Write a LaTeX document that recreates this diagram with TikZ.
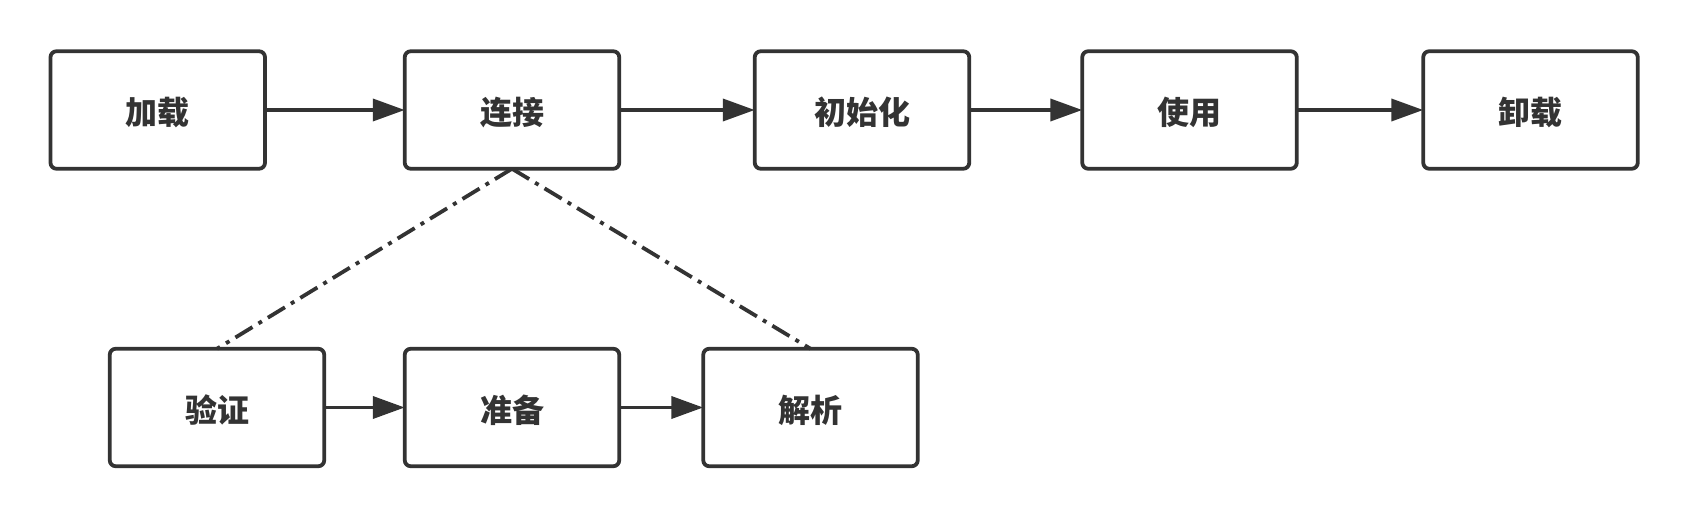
\documentclass[tikz,border=0pt]{standalone}
\usepackage{fontspec}
\newfontfamily\cjk{Noto Sans CJK SC}
\usetikzlibrary{arrows.meta}
\definecolor{ink}{HTML}{333333}
\newcommand{\lowered}[1]{\raisebox{-15pt}[0pt][0pt]{#1}}
\tikzset{
  stagebox/.style={draw=ink, line width=3.8pt, rounded corners=6pt, fill=white,
    minimum width=214.5pt, minimum height=117.5pt, outer sep=0pt, inner sep=0pt,
    text=ink, font=\cjk\bfseries\fontsize{32pt}{36pt}\selectfont},
  flow/.style={draw=ink, line width=3.8pt, -{Triangle[length=32pt,width=22pt]}},
  subflow/.style={draw=ink, line width=3.8pt, dash pattern=on 20pt off 7pt on 4pt off 7pt}
}
\begin{document}
\begin{tikzpicture}[x=1pt,y=-1pt]
\useasboundingbox (0,0) rectangle (1688,518);
\node[stagebox] (load) at (157.75,110) {\lowered{加载}};
\node[stagebox] (link) at (512,110) {\lowered{连接}};
\node[stagebox] (init) at (862,110) {\lowered{初始化}};
\node[stagebox] (use) at (1189.5,110) {\lowered{使用}};
\node[stagebox] (unload) at (1530.5,110) {\lowered{卸载}};
\node[stagebox] (verify) at (217,407.5) {\lowered{验证}};
\node[stagebox] (prep) at (512,407.5) {\lowered{准备}};
\node[stagebox] (resolve) at (810.5,407.5) {\lowered{解析}};
\draw[flow] (load) -- (link);
\draw[flow] (link) -- (init);
\draw[flow] (init) -- (use);
\draw[flow] (use) -- (unload);
\draw[flow] (verify) -- (prep);
\draw[flow] (prep) -- (resolve);
\draw[subflow] (link.south) -- (verify.north);
\draw[subflow] (link.south) -- (resolve.north);
\end{tikzpicture}
\end{document}
